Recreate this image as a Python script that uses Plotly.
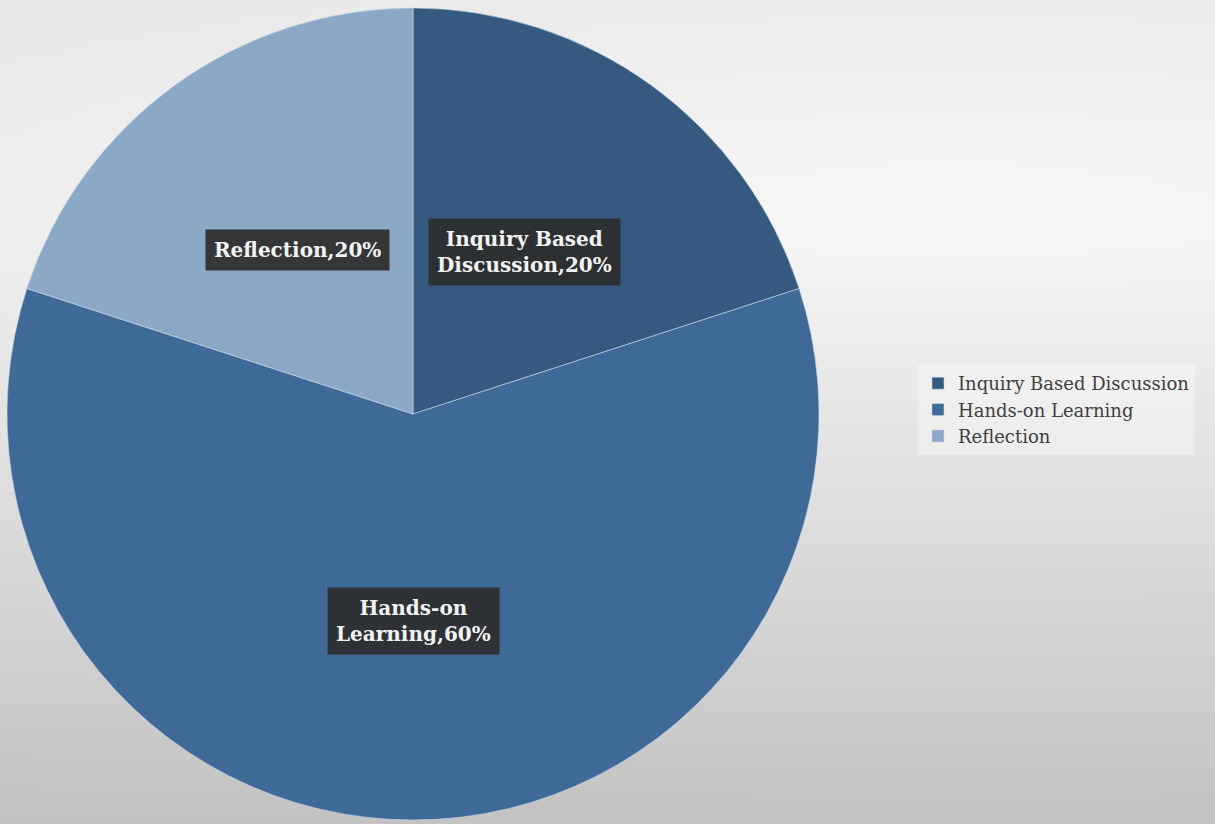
import base64, struct, zlib
import numpy as np
import plotly.graph_objects as go

# ---- data ----
categories = ["Inquiry Based Discussion", "Hands-on Learning", "Reflection"]
values = [20, 60, 20]
label_lines = [["Inquiry Based", "Discussion"], ["Hands-on", "Learning"], ["Reflection"]]
colors = ["#35597f", "#3f6997", "#8ca8c7"]

W, H = 1215, 824

# ---- background gradient image (styling only) ----
def gradient_png(w, h):
    ys, xs = np.mgrid[0:h, 0:w]
    X = xs * (W / w); Y = ys * (H / h)
    dx = (X - 950) * 0.12
    dy = (Y - 220)
    dy = np.where(dy < 0, dy * 0.6, dy)
    r = np.sqrt(dx ** 2 + dy ** 2)
    v = np.clip(248 - 0.088 * r, 0, 255).astype(np.uint8)
    raw = b"".join(b"\x00" + bytes(np.repeat(row, 3)) for row in v)
    def chunk(t, d):
        c = struct.pack(">I", len(d)) + t + d
        return c + struct.pack(">I", zlib.crc32(t + d) & 0xffffffff)
    png = b"\x89PNG\r\n\x1a\n" + chunk(b"IHDR", struct.pack(">IIBBBBB", w, h, 8, 2, 0, 0, 0))
    png += chunk(b"IDAT", zlib.compress(raw, 9)) + chunk(b"IEND", b"")
    return "data:image/png;base64," + base64.b64encode(png).decode()

bg = gradient_png(243, 165)

fig = go.Figure()
fig.add_trace(go.Pie(
    labels=categories, values=values, sort=False, direction="clockwise", rotation=0,
    marker=dict(colors=colors, line=dict(color="rgba(200,215,230,0.6)", width=1)),
    textinfo="none", hoverinfo="label+percent",
    domain=dict(x=[7 / W, 819 / W], y=[4 / H, 1 - 8 / H]),
))

total = sum(values)
ann_pos = [(524, 252), (413, 621), (297, 250)]  # label box centres in pixels
annotations = []
for lines, v, (px, py) in zip(label_lines, values, ann_pos):
    pct = round(100 * v / total)
    txt = "<br>".join(lines[:-1] + [f"{lines[-1]},{pct}%"])
    annotations.append(dict(
        x=px / W, y=1 - py / H, xref="paper", yref="paper", text=txt, showarrow=False,
        xanchor="center", yanchor="middle",
        font=dict(family="DejaVu Serif", size=20, color="#f2f2f2", weight="bold"),
        bgcolor="rgba(45,45,45,0.93)", borderpad=8, align="center",
    ))

fig.update_layout(
    width=W, height=H, margin=dict(l=0, r=0, t=0, b=0),
    paper_bgcolor="#e6e6e6", plot_bgcolor="rgba(0,0,0,0)",
    images=[dict(source=bg, xref="paper", yref="paper", x=0, y=1, sizex=1, sizey=1,
                 sizing="stretch", layer="below", xanchor="left", yanchor="top")],
    annotations=annotations,
    showlegend=True,
    legend=dict(x=918 / W, y=1 - 410 / H, xanchor="left", yanchor="middle",
                bgcolor="rgba(255,255,255,0.35)", font=dict(family="DejaVu Serif", size=18, color="#404040"),
                itemwidth=30, tracegroupgap=0),
)
fig.write_html("out.html", config={"displayModeBar": False},
               post_script="document.body.style.margin='0';")
